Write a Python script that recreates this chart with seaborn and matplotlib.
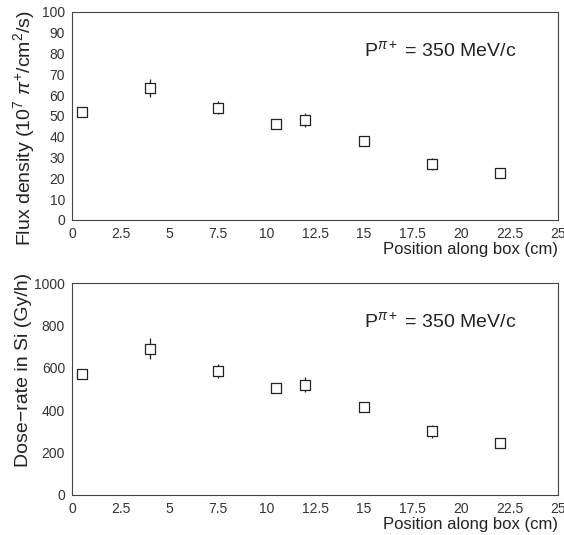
import numpy as np
import pandas as pd
import matplotlib
matplotlib.use("Agg")
import matplotlib.pyplot as plt
import seaborn as sns
from matplotlib.ticker import MultipleLocator

# ---- data ----
position = [0.5, 4.0, 7.5, 10.5, 12.0, 15.0, 18.5, 22.0]
flux = [52.0, 63.5, 54.0, 46.0, 48.0, 38.0, 27.0, 22.5]
flux_err = [1.5, 4.5, 3.0, 1.5, 3.5, 1.5, 3.0, 1.0]
dose = [570, 690, 585, 505, 520, 415, 300, 245]
dose_err = [15, 50, 35, 20, 35, 15, 30, 10]

xlabel = "Position along box (cm)"
ylabel_top = r"Flux density (10$^7$ $\pi^{+}$/cm$^2$/s)"
ylabel_bot = "Dose\u2212rate in Si (Gy/h)"
annot = r"P$^{\pi+}$ = 350 MeV/c"

sns.set_style("white")
plt.rcParams['font.family'] = ['Liberation Sans', 'DejaVu Sans']
plt.rcParams['mathtext.fontset'] = 'custom'
plt.rcParams['mathtext.rm'] = 'Liberation Sans'
plt.rcParams['mathtext.it'] = 'Liberation Sans:italic'

fig = plt.figure(figsize=(5.64, 5.35), dpi=100)
ax1 = fig.add_axes([0.1277, 0.5888, 0.862, 0.3888])
ax2 = fig.add_axes([0.1277, 0.0748, 0.862, 0.396])

df_top = pd.DataFrame({"x": position, "y": flux, "e": flux_err})
df_bot = pd.DataFrame({"x": position, "y": dose, "e": dose_err})

def draw(ax, df, ymax, ymaj, ymin_, ylabel, ann_y, lab_xy):
    ax.errorbar(df["x"], df["y"], yerr=df["e"], fmt='none', ecolor='#222222',
                elinewidth=0.9, capsize=0, zorder=2)
    sns.scatterplot(data=df, x="x", y="y", marker='s', s=42, facecolor='white',
                    edgecolor='#222222', linewidth=0.9, ax=ax, zorder=3)
    ax.set_xlim(0, 25)
    ax.set_ylim(0, ymax)
    ax.xaxis.set_major_locator(MultipleLocator(2.5))
    ax.xaxis.set_minor_locator(MultipleLocator(0.5))
    ax.yaxis.set_major_locator(MultipleLocator(ymaj))
    ax.yaxis.set_minor_locator(MultipleLocator(ymin_))
    ax.xaxis.set_major_formatter(matplotlib.ticker.FuncFormatter(lambda v, p: f"{v:g}"))
    ax.tick_params(which='major', direction='in', length=7, width=0.8, color='#222222',
                   labelsize=10, labelcolor='#333333', top=False, right=False, pad=5)
    ax.tick_params(which='minor', direction='in', length=3.5, width=0.8, color='#222222',
                   top=False, right=False)
    for sp in ax.spines.values():
        sp.set_linewidth(0.8)
        sp.set_color('#444444')
    ax.set_xlabel(xlabel, fontsize=12, loc='right', color='#222222', labelpad=1)
    ax.set_ylabel(ylabel, fontsize=14, loc='top', color='#222222')
    ax.yaxis.set_label_coords(*lab_xy)
    ax.text(15.0, ann_y, annot, fontsize=14, color='#222222', va='center', ha='left')

draw(ax1, df_top, 100, 10, 2, ylabel_top, 81, (-0.072, 1.01))
draw(ax2, df_bot, 1000, 200, 50, ylabel_bot, 815, (-0.082, 1.047))

fig.savefig("out.png", dpi=100, facecolor='white')
